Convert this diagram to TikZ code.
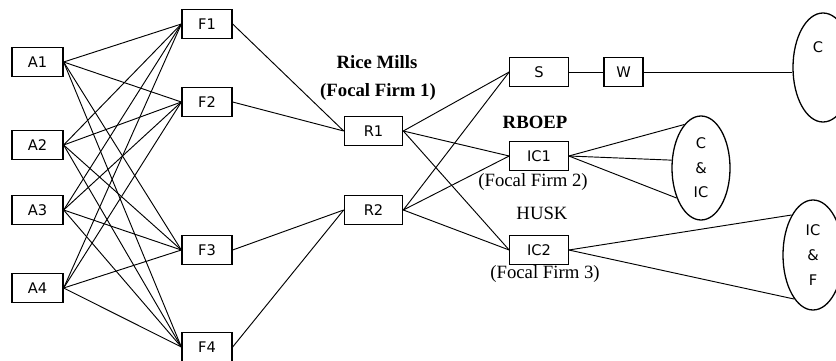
\documentclass[tikz,border=0pt]{standalone}
\usepackage{fontspec}
\setmainfont{Liberation Serif}
\newfontfamily\boxfont{DejaVu Sans}
\usetikzlibrary{shapes.geometric}

\begin{document}
\begin{tikzpicture}[x = 0.03cm, y = -0.03cm, font = \boxfont\fontsize{12.5}{14}\selectfont,
	box/.style = {draw, line width = 1.1pt, minimum width = 1.53cm, minimum height = 0.88cm, inner sep = 0pt},
	wide/.style = {box, minimum width = 1.75cm},
	market/.style = {draw, ellipse, line width = 1.1pt, inner sep = 0pt, align = center},
	link/.style = {line width = 0.8pt},
	title/.style = {font = \rmfamily\fontsize{16}{18}\selectfont}]

	% Frame
	
	\useasboundingbox (0, 0) rectangle (836, 360);
	\clip (0, 0) rectangle (836, 360);
	
	% Farmers and agents
	
	\node [box] (A1) at (37.5, 62) {A1};
	\node [box] (A2) at (37.5, 145) {A2};
	\node [box] (A3) at (37.5, 210) {A3};
	\node [box] (A4) at (37.5, 288) {A4};
	
	\node [box, minimum width = 1.5cm] (F1) at (207, 24) {F1};
	\node [box, minimum width = 1.5cm] (F2) at (207, 102) {F2};
	\node [box, minimum width = 1.5cm] (F3) at (207, 250) {F3};
	\node [box, minimum width = 1.5cm] (F4) at (207, 347) {F4};
	
	\foreach \a in {1, ..., 4}
		\foreach \f in {1, ..., 4}
			\draw [link] (A\a.east) -- (F\f.west);
	
	% Rice mills
	
	\node [wide] (R1) at (373.5, 131) {R1};
	\node [wide] (R2) at (373.5, 210) {R2};
	
	\draw [link] (F1.east) -- (R1.west);
	\draw [link] (F2.east) -- (R1.west);
	\draw [link] (F3.east) -- (R2.west);
	\draw [link] (F4.east) -- (R2.west);
	
	\node [title, font = \rmfamily\bfseries\fontsize{16}{18}\selectfont] (mills) at (377, 62) {Rice Mills};
	\node [title, font = \rmfamily\bfseries\fontsize{16}{18}\selectfont] (focal1) at (378, 92) {(Focal Firm 1)};
	
	% Stockists and industries
	
	\node [wide] (S) at (539, 72) {S};
	\node [wide] (IC1) at (539, 156) {IC1};
	\node [wide] (IC2) at (539, 250) {IC2};
	\node [box, minimum width = 1.17cm] (W) at (623.5, 72) {W};
	
	\foreach \r in {R1, R2}
		\foreach \t in {S, IC1, IC2}
			\draw [link] (\r.east) -- (\t.west);
	
	\node [title, font = \rmfamily\bfseries\fontsize{16}{18}\selectfont] (rboep) at (535, 122) {RBOEP};
	\node [title] (focal2) at (533, 182) {(Focal Firm 2)};
	\node [title] (husk) at (542, 213) {HUSK};
	\node [title] (focal3) at (545, 274) {(Focal Firm 3)};
	
	% Markets
	
	\node [market, minimum width = 1.8cm, minimum height = 3.27cm] (ellC) at (823, 67.5) {};
	\node (labC) at (818, 47) {C};
	\node [market, minimum width = 1.74cm, minimum height = 3.12cm] (ellCIC) at (701, 168) {C\\[7pt]\&\\[7pt]IC};
	\node [market, minimum width = 1.8cm, minimum height = 3.3cm] (ellICF) at (813, 255) {IC\\[7pt]\&\\[7pt]F};
	
	\draw [link] (S.east) -- (W.west);
	\draw [link] (W.east) -- (W.east -| ellC.west);
	
	\draw [link] (IC1.east) -- (ellCIC.111);
	\draw [link] (IC1.east) -- (ellCIC.165);
	\draw [link] (IC1.east) -- (ellCIC.231);
	
	\draw [link] (IC2.east) -- (ellICF.118);
	\draw [link] (IC2.east) -- (ellICF.247);

\end{tikzpicture}
\end{document}
